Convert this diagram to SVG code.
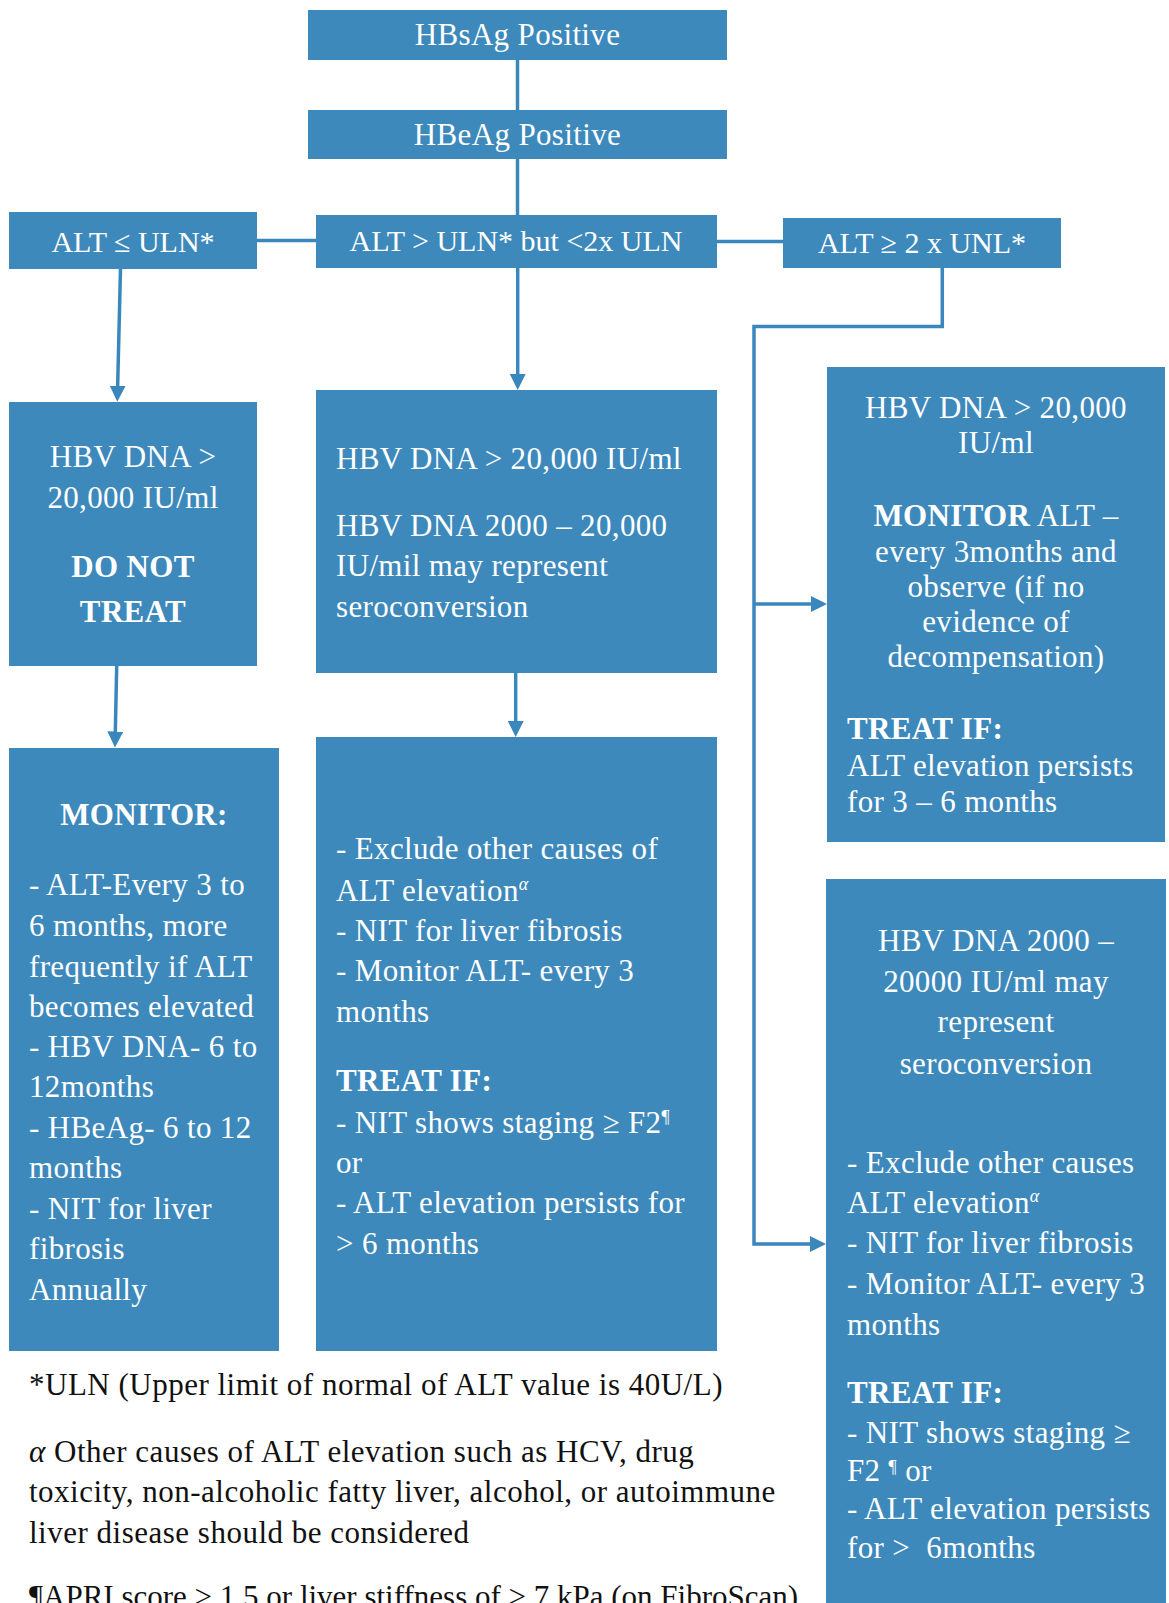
<svg xmlns="http://www.w3.org/2000/svg" width="1169" height="1603" viewBox="0 0 1169 1603">
<defs>
<style>
.box{fill:#3D89BC}
.t{fill:#ffffff;font-family:"Liberation Serif","Times New Roman",serif;font-size:31px;letter-spacing:0.35px}
.h{font-size:30px;letter-spacing:0}
.c{text-anchor:middle}
.b{font-weight:bold}
.f{fill:#111111;font-family:"Liberation Serif","Times New Roman",serif;font-size:31px;letter-spacing:0.5px}
.sup{font-size:18px;font-style:italic}
.conn{stroke:#3A87BE;stroke-width:3.5;fill:none}
</style>
<marker id="arr" markerUnits="userSpaceOnUse" markerWidth="16" markerHeight="16" viewBox="0 0 16 16" refX="6" refY="8" orient="auto">
<path d="M0,0 L16,8 L0,16 z" fill="#3A87BE"/>
</marker>
</defs>
<rect width="1169" height="1603" fill="#ffffff"/>

<g id="connectors">
<line class="conn" x1="517.5" y1="60" x2="517.5" y2="110"/>
<line class="conn" x1="517.5" y1="159" x2="517.5" y2="215"/>
<line class="conn" x1="257" y1="240.5" x2="316" y2="240.5"/>
<line class="conn" x1="717" y1="241.5" x2="783" y2="241.5"/>
<line class="conn" x1="120.5" y1="269" x2="117.5" y2="391.7" marker-end="url(#arr)"/>
<line class="conn" x1="517.7" y1="268" x2="517.7" y2="380" marker-end="url(#arr)"/>
<line class="conn" x1="116.7" y1="666" x2="115.2" y2="737.5" marker-end="url(#arr)"/>
<line class="conn" x1="515.7" y1="673" x2="515.7" y2="727" marker-end="url(#arr)"/>
<polyline class="conn" points="942.3,268 942.3,326.5 754,326.5 754,1244 816,1244" marker-end="url(#arr)"/>
<line class="conn" x1="754" y1="604" x2="817" y2="604" marker-end="url(#arr)"/>
</g>

<g id="n1">
<rect class="box" x="308" y="10" width="419" height="50"/>
<text class="t c" x="517.5" y="44.5">HBsAg Positive</text>
</g>
<g id="n2">
<rect class="box" x="308" y="110" width="419" height="49"/>
<text class="t c" x="517.5" y="144.5">HBeAg Positive</text>
</g>
<g id="n3">
<rect class="box" x="9" y="212" width="248" height="57"/>
<text class="t h c" x="133" y="251.5">ALT ≤ ULN*</text>
</g>
<g id="n4">
<rect class="box" x="316" y="215" width="401" height="53"/>
<text class="t h c" x="516" y="251">ALT &gt; ULN* but &lt;2x ULN</text>
</g>
<g id="n5">
<rect class="box" x="783" y="218" width="278" height="50"/>
<text class="t h c" x="922" y="252.5">ALT ≥ 2 x UNL*</text>
</g>

<g id="n6">
<rect class="box" x="9" y="402" width="248" height="264"/>
<text class="t c" x="133" y="467">HBV DNA &gt;</text>
<text class="t c" x="133" y="508">20,000 IU/ml</text>
<text class="t c b" x="133" y="577">DO NOT</text>
<text class="t c b" x="133" y="622">TREAT</text>
</g>

<g id="n7">
<rect class="box" x="316" y="390" width="401" height="283"/>
<text class="t" x="336" y="469">HBV DNA &gt; 20,000 IU/ml</text>
<text class="t" x="336" y="536">HBV DNA 2000 – 20,000</text>
<text class="t" x="336" y="576">IU/mil may represent</text>
<text class="t" x="336" y="617">seroconversion</text>
</g>

<g id="n8">
<rect class="box" x="827" y="367" width="338" height="475"/>
<text class="t c" x="996" y="418">HBV DNA &gt; 20,000</text>
<text class="t c" x="996" y="453">IU/ml</text>
<text class="t c" x="996" y="526"><tspan class="b">MONITOR</tspan> ALT –</text>
<text class="t c" x="996" y="562">every 3months and</text>
<text class="t c" x="996" y="597">observe (if no</text>
<text class="t c" x="996" y="632">evidence of</text>
<text class="t c" x="996" y="667">decompensation)</text>
<text class="t b" x="847" y="739">TREAT IF:</text>
<text class="t" x="847" y="776">ALT elevation persists</text>
<text class="t" x="847" y="812">for 3 – 6 months</text>
</g>

<g id="n9">
<rect class="box" x="9" y="748" width="270" height="603"/>
<text class="t c b" x="144" y="825">MONITOR:</text>
<text class="t" x="29" y="895">- ALT-Every 3 to</text>
<text class="t" x="29" y="936">6 months, more</text>
<text class="t" x="29" y="977">frequently if ALT</text>
<text class="t" x="29" y="1017">becomes elevated</text>
<text class="t" x="29" y="1057">- HBV DNA- 6 to</text>
<text class="t" x="29" y="1097">12months</text>
<text class="t" x="29" y="1138">- HBeAg- 6 to 12</text>
<text class="t" x="29" y="1178">months</text>
<text class="t" x="29" y="1219">- NIT for liver</text>
<text class="t" x="29" y="1259">fibrosis</text>
<text class="t" x="29" y="1300">Annually</text>
</g>

<g id="n10">
<rect class="box" x="316" y="737" width="401" height="614"/>
<text class="t" x="336" y="859">- Exclude other causes of</text>
<text class="t" x="336" y="901">ALT elevation<tspan class="sup" dy="-11">α</tspan></text>
<text class="t" x="336" y="941">- NIT for liver fibrosis</text>
<text class="t" x="336" y="981">- Monitor ALT- every 3</text>
<text class="t" x="336" y="1022">months</text>
<text class="t b" x="336" y="1091">TREAT IF:</text>
<text class="t" x="336" y="1133">- NIT shows staging ≥ F2<tspan font-size="18" dy="-10">¶</tspan></text>
<text class="t" x="336" y="1173">or</text>
<text class="t" x="336" y="1213">- ALT elevation persists for</text>
<text class="t" x="336" y="1254">&gt; 6 months</text>
</g>

<g id="n11">
<rect class="box" x="826" y="879" width="340" height="730"/>
<text class="t c" x="996" y="951">HBV DNA 2000 –</text>
<text class="t c" x="996" y="992">20000 IU/ml may</text>
<text class="t c" x="996" y="1032">represent</text>
<text class="t c" x="996" y="1074">seroconversion</text>
<text class="t" x="847" y="1173">- Exclude other causes</text>
<text class="t" x="847" y="1213">ALT elevation<tspan class="sup" dy="-11">α</tspan></text>
<text class="t" x="847" y="1253">- NIT for liver fibrosis</text>
<text class="t" x="847" y="1294">- Monitor ALT- every 3</text>
<text class="t" x="847" y="1335">months</text>
<text class="t b" x="847" y="1403">TREAT IF:</text>
<text class="t" x="847" y="1443">- NIT shows staging ≥</text>
<text class="t" x="847" y="1481">F2 <tspan font-size="18" dy="-8">¶</tspan><tspan dy="8"> or</tspan></text>
<text class="t" x="847" y="1519">- ALT elevation persists</text>
<text class="t" x="847" y="1558">for &gt;&#160; 6months</text>
</g>

<g id="footnotes">
<text class="f" x="29" y="1395">*ULN (Upper limit of normal of ALT value is 40U/L)</text>
<text class="f" x="29" y="1462"><tspan font-style="italic">α</tspan> Other causes of ALT elevation such as HCV, drug</text>
<text class="f" x="29" y="1502">toxicity, non-alcoholic fatty liver, alcohol, or autoimmune</text>
<text class="f" x="29" y="1543">liver disease should be considered</text>
<text class="f" x="29" y="1607" style="letter-spacing:0">¶APRI score &gt; 1.5 or liver stiffness of &gt; 7 kPa (on FibroScan)</text>
</g>
</svg>
